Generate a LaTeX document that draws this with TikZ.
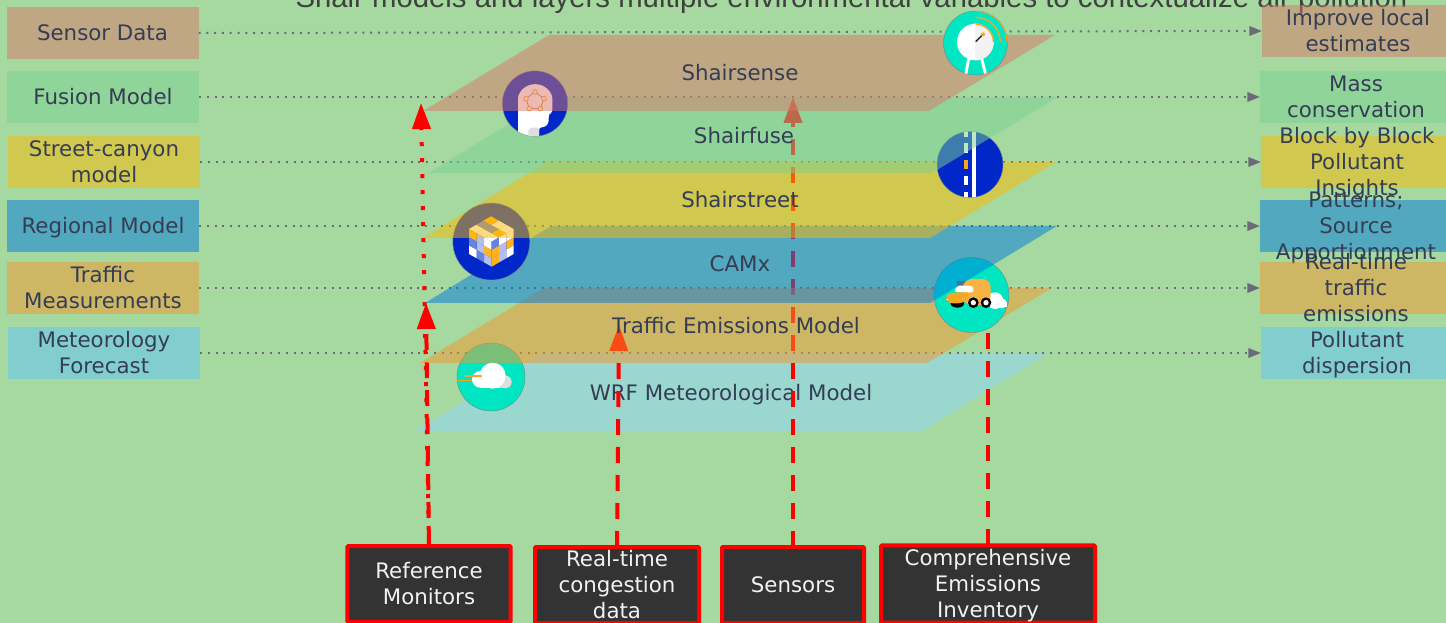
\documentclass[tikz,border=0pt]{standalone}
\usepackage{fontspec}
\setmainfont{DejaVu Sans}
\newfontfamily\titlefont{Liberation Sans}
\usetikzlibrary{arrows.meta}
\definecolor{bgc}{HTML}{A5D9A0}
\definecolor{csense}{HTML}{DB7768}
\definecolor{cfuse}{HTML}{7BD194}
\definecolor{cstreet}{HTML}{FDB900}
\definecolor{ccamx}{HTML}{0179DE}
\definecolor{ctraffic}{HTML}{F5972C}
\definecolor{cwrf}{HTML}{91D7FE}
\definecolor{cmet}{HTML}{61C5FE}
\definecolor{ink}{HTML}{353D55}
\definecolor{dotc}{HTML}{6A6A7A}
\definecolor{teal}{HTML}{00E6C3}
\definecolor{deep}{HTML}{0028C8}
\definecolor{amber}{HTML}{F5A623}
\definecolor{cubeO}{HTML}{FFB41E}
\definecolor{cubeB}{HTML}{6482E0}
\definecolor{cubeL}{HTML}{B4BEF0}
\definecolor{softgrey}{HTML}{DEDEDE}
\newcommand{\cubeface}[5]{%
  \foreach \cc [count=\ii from 0] in {#5} {
    \pgfmathtruncatemacro{\rr}{mod(\ii,3)}
    \pgfmathtruncatemacro{\ss}{int(\ii/3)}
    \fill[\cc] ({125+\rr*(#1)+\ss*(#3)},{125+\rr*(#2)+\ss*(#4)}) -- ++(#1,#2) -- ++(#3,#4) -- ++({-(#1)},{-(#2)}) -- cycle;
  }}
\newcommand{\st}{\rule[-4.15pt]{0pt}{19.5pt}}
\tikzset{
  every node/.style={font=\fontsize{16}{19.5}\selectfont,text=ink,align=center,inner sep=0pt,outer sep=0pt},
  sidebox/.style={minimum width=144pt,minimum height=39pt,inner ysep=-12pt,fill opacity=.5,text opacity=1},
  layerlabel/.style={},
  bottombox/.style={draw=red,line width=3pt,fill=black!80,text=white!95!black,rounded corners=.8pt,minimum height=57pt,inner ysep=-8pt},
  guide/.style={draw=dotc,line width=1.5pt,dash pattern=on 1.5pt off 4.35pt,-{Triangle[length=9.4pt,width=7pt]}},
  feed/.style={draw=red,line width=3pt,dash pattern=on 12pt off 9pt},
  feedtip/.style={-{Triangle[length=19.5pt,width=13.5pt]}},
  feeddot/.style={draw=red,line width=3pt,dash pattern=on 3pt off 9pt},
  iconbase/.style={circle,draw=black!50,line width=.3pt},
  zoomunits/.style={x=.25pt,y=-.25pt}
}
\begin{document}
\begin{tikzpicture}[x=.75pt,y=-.75pt]
\useasboundingbox (0,0) rectangle (1446,623);
\clip (0,0) rectangle (1446,623);
\fill[bgc] (0,0) rectangle (1446,623);
% title
\node[anchor=base,text=black!75,font=\titlefont\fontsize{22}{26}\selectfont] (title) at (851.5,8) {Shair models and layers multiple environmental variables to contextualize air pollution};
% side boxes
\node[sidebox,fill=csense] (l1) at (102.5,33) {\st Sensor Data};
\node[sidebox,fill=cfuse] (l2) at (103,97) {\st Fusion Model};
\node[sidebox,fill=cstreet] (l3) at (104,162) {\st Street-canyon\\\st model};
\node[sidebox,fill=ccamx] (l4) at (103,226) {\st Regional Model};
\node[sidebox,fill=ctraffic] (l5) at (103,288) {\st Traffic\\\st Measurements};
\node[sidebox,fill=cmet] (l6) at (104,353) {\st Meteorology\\\st Forecast};
\node[sidebox,fill=csense] (r1) at (1358,31) {\st Improve local\\\st estimates};
\node[sidebox,fill=cfuse] (r2) at (1356,97) {\st Mass\\\st conservation};
\node[sidebox,fill=cstreet] (r3) at (1357,162) {\st Block by Block\\\st Pollutant\\\st Insights};
\node[sidebox,fill=ccamx] (r4) at (1356,226) {\st Patterns;\\\st Source\\\st Apportionment};
\node[sidebox,fill=ctraffic] (r5) at (1356,288) {\st Real-time\\\st traffic\\\st emissions};
\node[sidebox,fill=cmet] (r6) at (1357,353) {\st Pollutant\\\st dispersion};
% dotted guides
\foreach \n in {1,...,6} \draw[guide] (l\n.east) -- (r\n.west);
% bottom boxes
\node[bottombox,minimum width=122.5pt] (b1) at (429,584) {\st Reference\\\st Monitors};
\node[bottombox,minimum width=123pt] (b2) at (617,585) {\st Real-time\\\st congestion\\\st data};
\node[bottombox,minimum width=106.5pt] (b3) at (793,585) {\st Sensors};
\node[bottombox,minimum width=160.5pt,minimum height=58pt] (b4) at (988,584) {\st Comprehensive\\\st Emissions\\\st Inventory};
% WRF layer
\fill[cwrf,fill opacity=.5] (540,354) -- (1047,354) -- (922,431) -- (415,431) -- cycle;
\node[layerlabel] (twrf) at (731,393) {\st WRF Meteorological Model};
% cloud icon
\node[iconbase,fill=teal,minimum size=51pt] (icloud) at (491,377) {};
\begin{scope}
  \clip (491,377) circle [radius=34];
  \begin{scope}[shift={(452,338)},zoomunits]
  \fill[softgrey] (160,132) circle [radius=19];
  \fill[softgrey] (140,130) rectangle (160,151);
  \fill[white] (122,113) circle [radius=39];
  \fill[white] (85,124) circle [radius=25];
  \fill[white] (85,125) rectangle (140,149);
  \fill[amber] (40,111.5) rectangle (90,116.5);
  \fill[amber] (12,125.5) rectangle (60,130.5);
  \end{scope}
\end{scope}
% feeds
\coordinate (tipA) at (426,303);
\coordinate (tipB) at (421,103);
\coordinate (tipC) at (619,325);
\coordinate (tipD) at (793,97);
\draw[feed,feedtip] (b1.north) -- (tipA);
\draw[feeddot,feedtip] (b1.north) -- (tipB);
\draw[feed,feedtip] (b2.north) -- (tipC);
\draw[feed,feedtip] (b3.north) -- (tipD);
% traffic layer
\fill[ctraffic,fill opacity=.5] (544,288) -- (1052,288) -- (927,363) -- (420,363) -- cycle;
\node[layerlabel] (ttraffic) at (736,326) {\st Traffic Emissions Model};
% traffic icon
\node[iconbase,fill=teal,minimum size=56.25pt] (itraffic) at (971.5,295) {};
\draw[feed] (b4.north) -- (b4.north |- itraffic.south);
\begin{scope}[shift={(930,255)},zoomunits]
  \fill[white] (195,137) circle [radius=25];
  \fill[white] (215,145) circle [radius=15];
  \fill[white] (170,140) rectangle (231,155);
  \fill[black!55] (80,77) rectangle (110,95);
  \fill[black] (82,146) ellipse [x radius=20,y radius=12];
  \fill[amber!85!white,rounded corners=6pt] (100,72) -- (182,72) -- (182,150) -- (100,150) -- cycle;
  \fill[white,rounded corners=2pt] (75,108) -- (80,92) -- (128,92) -- (132,112) -- (75,112) -- cycle;
  \fill[amber,rounded corners=5pt] (48,145) -- (48,125) -- (58,112) -- (125,112) -- (105,145) -- cycle;
  \fill[black] (130,143) circle [radius=16];
  \fill[white] (130,143) circle [radius=8];
  \fill[black] (168,143) circle [radius=16];
  \fill[white] (168,143) circle [radius=8];
  \fill[white] (52,134) circle [radius=2];
  \fill[white] (98,132) circle [radius=2];
\end{scope}
% CAMx layer
\fill[ccamx,fill opacity=.5] (551,226) -- (1057,226) -- (930,303) -- (425,303) -- cycle;
\node[layerlabel] (tcamx) at (740,264) {\st CAMx};
% cube icon
\node[iconbase,fill=deep,minimum size=57.75pt] (icube) at (491.3,241.5) {};
\begin{scope}[shift={(450,200)},zoomunits]
  \cubeface{-22.67}{-12.67}{22}{-12.67}{white,white,white,cubeO,cubeB,cubeB,white,white,cubeO}
  \cubeface{-22.67}{-12.67}{0}{25}{white,cubeL,cubeO,cubeO,cubeL,cubeB,cubeL,cubeB,white}
  \cubeface{22}{-12.67}{0}{25}{cubeB,white,white,cubeO,cubeL,cubeO,cubeO,cubeL,white}
\end{scope}
% street layer
\fill[cstreet,fill opacity=.5] (547,162) -- (1056,162) -- (930,238) -- (423,238) -- cycle;
\node[layerlabel] (tstreet) at (740,200) {\st Shairstreet};
% road icon
\node[iconbase,fill=deep,minimum size=49.5pt] (iroad) at (970,164.5) {};
\begin{scope}
  \clip (970,164.5) circle [radius=33];
  \fill[white] (972,130) rectangle (976,199);
  \fill[white] (963.7,130) rectangle (968,136.7);
  \fill[white] (963.7,143.3) rectangle (968,152.7);
  \fill[amber] (963.7,160) rectangle (968,169.3);
  \fill[white] (963.7,175.7) rectangle (968,185.3);
  \fill[white] (963.7,192.3) rectangle (968,199);
\end{scope}
% fuse layer
\fill[cfuse,fill opacity=.5] (554,97) -- (1058,97) -- (932,173) -- (428,173) -- cycle;
\node[layerlabel] (tfuse) at (744,136) {\st Shairfuse};
% head icon
\node[iconbase,fill=deep,minimum size=49pt] (ihead) at (535,103.5) {};
\begin{scope}
  \clip (535,103.5) circle [radius=32.7];
  \begin{scope}[shift={(400,0)},zoomunits]
  \fill[white,rounded corners=2pt] (354,410) -- (354,304) arc [start angle=180,end angle=360,radius=51.5] -- (457,338) -- (447,340) -- (445,372) -- (432,382) -- (417,382) -- (417,410) -- cycle;
  \fill[softgrey] (385,410) -- (385,392) -- (393,383) -- (417,383) -- (417,410) -- cycle;
  \draw[black!60,line width=.4pt] (405,276) -- (432,296) -- (421,326) -- (388,326) -- (378,296) -- cycle;
  \foreach \px/\py in {405/276,432/296,421/326,388/326,378/296}
    \draw[amber,line width=.6pt,fill=white] (\px,\py) circle [radius=7];
  \end{scope}
\end{scope}
% sense layer
\fill[csense,fill opacity=.5] (549,35) -- (1055,35) -- (929,111) -- (423,111) -- cycle;
\node[layerlabel] (tsense) at (740,73) {\st Shairsense};
% gauge icon
\node[iconbase,fill=teal,minimum size=48pt] (igauge) at (975.5,43) {};
\begin{scope}
  \clip (975.5,43) circle [radius=32];
  \begin{scope}[shift={(750,0)},zoomunits]
  \draw[white,line width=2.2pt] (656,176) -- (647,224);
  \draw[white,line width=2.2pt] (695,176) -- (707,224);
  \fill[white] (676,126) circle [radius=55];
  \fill[black!5] (676,71) arc [start angle=270,end angle=450,radius=55] -- cycle;
  \draw[amber,line width=1pt] (677,73) arc [start angle=270,end angle=360,radius=53];
  \draw[amber,line width=1pt] (677,52) arc [start angle=270,end angle=360,radius=74];
  \draw[amber,line width=1pt] (677,33) arc [start angle=270,end angle=360,radius=94];
  \draw[black!85,line width=1pt] (677,125) -- (698,104);
  \fill[amber] (699,103) circle [radius=6];
  \end{scope}
\end{scope}
\end{tikzpicture}
\end{document}
